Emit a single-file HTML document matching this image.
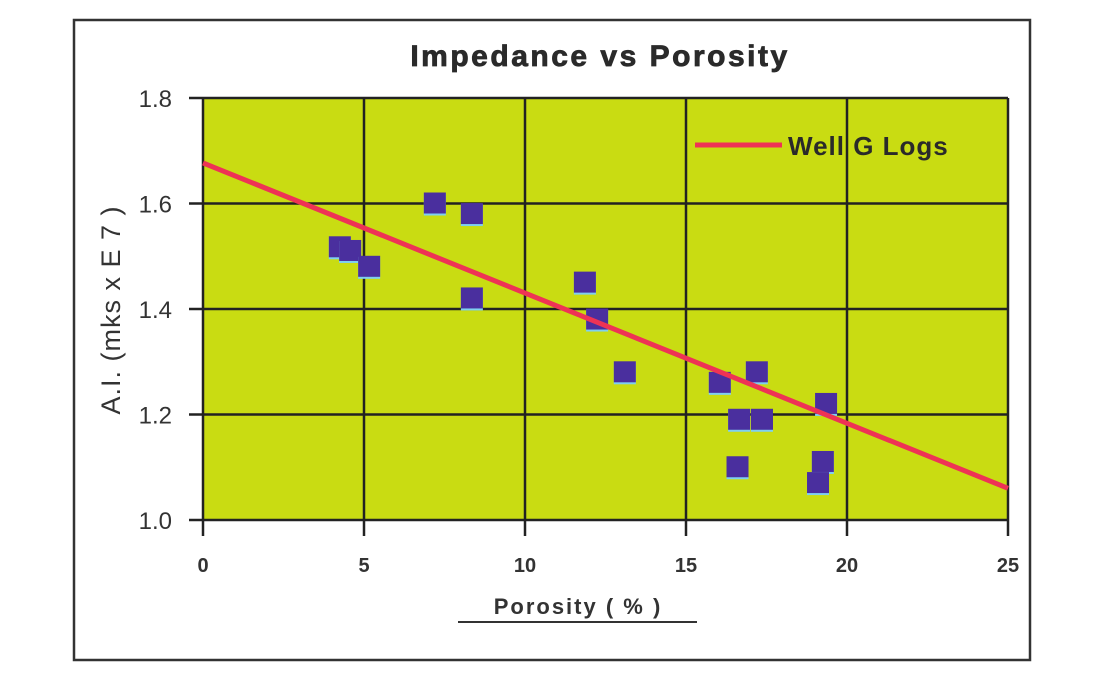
<!DOCTYPE html>
<html><head><meta charset="utf-8"><style>
body{margin:0;background:#fff;}
svg{display:block;font-family:"Liberation Sans",sans-serif;}
</style></head><body>
<svg id="chart" width="1100" height="680" viewBox="0 0 1100 680">
<rect x="74" y="20" width="956" height="640" fill="#fff" stroke="#333" stroke-width="2.5"/>
<text x="600" y="66" text-anchor="middle" font-size="30" font-weight="bold" fill="#2a2a2a" letter-spacing="2.5" stroke="#2a2a2a" stroke-width="0.8">Impedance vs Porosity</text>
<rect x="203" y="98" width="805" height="422" fill="#c9dc12"/>
<g id="grid"></g>
<g id="marks"></g>
<line id="fit" stroke="#ee3355" stroke-width="5"/>
<line x1="695" y1="145" x2="782" y2="145" stroke="#ee3355" stroke-width="5"/>
<text x="788" y="155" font-size="26" font-weight="bold" fill="#2a2a2a" letter-spacing="1">Well G Logs</text>
<text transform="translate(120,310) rotate(-90)" text-anchor="middle" font-size="27" fill="#333" letter-spacing="1">A.I. (mks x E 7 )</text>
<text x="578" y="614" text-anchor="middle" font-size="22" font-weight="bold" fill="#333" letter-spacing="2">Porosity ( % )</text>
<line x1="458" y1="622" x2="697" y2="622" stroke="#333" stroke-width="2"/>
</svg>
<script>
const xTicks=[0,5,10,15,20,25];
const yTicks=[1.0,1.2,1.4,1.6,1.8];
const yTickLabels=["1.0","1.2","1.4","1.6","1.8"];
const porosity=[4.25,4.57,5.16,7.2,8.35,8.35,11.86,12.24,13.1,16.05,17.2,16.65,17.36,16.6,19.35,19.25,19.1];
const impedance=[1.517,1.51,1.48,1.6,1.58,1.42,1.45,1.38,1.28,1.26,1.28,1.19,1.19,1.10,1.22,1.11,1.07];
const fitX=[0,25];
const fitY=[1.677,1.06];
const NS="http://www.w3.org/2000/svg";
const X0=203,X1=1008,Y0=520,Y1=98;
function sx(v){return X0+(v-0)/(25-0)*(X1-X0);}
function sy(v){return Y0-(v-1.0)/(1.8-1.0)*(Y0-Y1);}
const grid=document.getElementById('grid'),marks=document.getElementById('marks'),svg=document.getElementById('chart');
function mk(tag,attrs,parent){const e=document.createElementNS(NS,tag);for(const k in attrs)e.setAttribute(k,attrs[k]);parent.appendChild(e);return e;}
xTicks.forEach((t,i)=>{
  const l=mk('line',{x1:sx(t),x2:sx(t),y1:Y1,y2:Y0+16,stroke:'#222','stroke-width':2.5},grid);
  
  
  const tx=mk('text',{x:sx(t),y:572,'text-anchor':'middle','font-size':20,'font-weight':'bold',fill:'#333'},svg);
  tx.textContent=String(t);
  
  
});
yTicks.forEach((t,i)=>{
  const l=mk('line',{x1:X0-14,x2:X1,y1:sy(t),y2:sy(t),stroke:'#222','stroke-width':2.5},grid);
  
  
  const tx=mk('text',{x:172,y:sy(t)+9,'text-anchor':'end','font-size':24,fill:'#333'},svg);
  tx.textContent=yTickLabels[i];
  
  
});
porosity.forEach((p,i)=>{
  const cx=sx(p),cy=sy(impedance[i]);
  const s=mk('rect',{x:cx-11,y:cy-10,width:22,height:22,fill:'#7fd0f0'},marks);
  
  
  const r=mk('rect',{x:cx-11,y:cy-11,width:22,height:21,fill:'#4a2f9e'},marks);
  
  
});
const f=document.getElementById('fit');
f.setAttribute('x1',sx(fitX[0]));f.setAttribute('y1',sy(fitY[0]));
f.setAttribute('x2',sx(fitX[1]));f.setAttribute('y2',sy(fitY[1]));
</script>
</body></html>
